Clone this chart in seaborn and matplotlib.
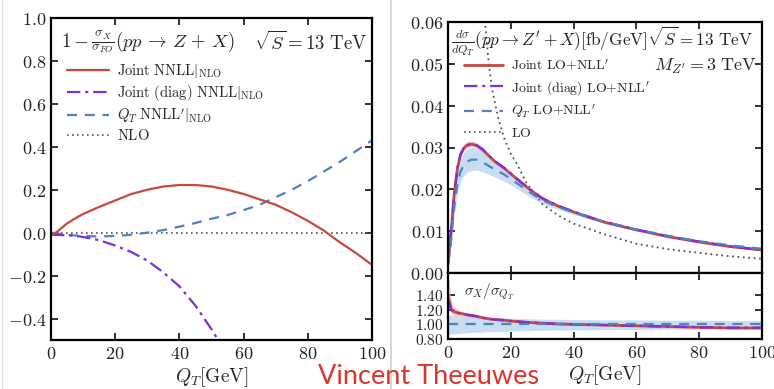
import matplotlib
matplotlib.use("Agg")
import matplotlib.pyplot as plt
import seaborn as sns
import pandas as pd
from matplotlib.lines import Line2D

# ---------------- data: left panel (relative difference to fixed order) ----------------
qt_left = [0, 1, 2, 3, 5, 7.5, 10, 15, 20, 25, 30, 35, 40, 45, 50, 55, 60, 65, 70, 75, 80, 85,
           90, 95, 100]
joint_nnll = [-0.01, -0.004, 0.005, 0.018, 0.043, 0.066, 0.087, 0.12, 0.15, 0.18, 0.20, 0.215,
              0.222, 0.222, 0.215, 0.20, 0.18, 0.155, 0.13, 0.095, 0.055, 0.01, -0.045, -0.095,
              -0.15]
joint_diag_nnll = [-0.01, -0.01, -0.01, -0.011, -0.012, -0.015, -0.02, -0.035, -0.06, -0.09,
                   -0.13, -0.185, -0.25, -0.34, -0.45, -0.57, -0.70, -0.85, -1.0, -1.2, -1.4,
                   -1.6, -1.8, -2.0, -2.2]
qt_nnll = [0.0, -0.002, -0.004, -0.006, -0.01, -0.013, -0.015, -0.018, -0.015, -0.01, 0.0, 0.012,
           0.028, 0.045, 0.065, 0.082, 0.105, 0.13, 0.165, 0.20, 0.24, 0.285, 0.33, 0.38, 0.43]
nlo = [0.0] * len(qt_left)

# ---------------- data: right panel (Z' spectrum) ----------------
qt_right = [0, 0.5, 1, 2, 3, 4, 5, 6, 7.5, 9, 11, 13, 15, 18, 20, 23, 26, 30, 35, 40, 45, 50,
            60, 70, 80, 90, 100]
joint_lo_nll = [0.002, 0.006, 0.010, 0.019, 0.025, 0.0283, 0.0298, 0.0305, 0.0308, 0.0305, 0.0295,
                0.0280, 0.0266, 0.0250, 0.0237, 0.0218, 0.0200, 0.0178, 0.0160, 0.0146, 0.0133,
                0.0121, 0.0103, 0.0087, 0.0074, 0.0063, 0.0055]
joint_lo_nll_lo = [0.0015, 0.0052, 0.0090, 0.0180, 0.0242, 0.0276, 0.0292, 0.0299, 0.0302, 0.0300,
                   0.0290, 0.0276, 0.0262, 0.0247, 0.0234, 0.0215, 0.0198, 0.0176, 0.0158, 0.0144,
                   0.0131, 0.0119, 0.0101, 0.0085, 0.0072, 0.0061, 0.0053]
joint_lo_nll_hi = [0.0025, 0.0070, 0.0112, 0.0202, 0.0260, 0.0292, 0.0307, 0.0314, 0.0316, 0.0312,
                   0.0300, 0.0285, 0.0270, 0.0253, 0.0240, 0.0221, 0.0202, 0.0180, 0.0162, 0.0148,
                   0.0135, 0.0123, 0.0105, 0.0089, 0.0076, 0.0065, 0.0057]
joint_diag_lo_nll = [0.002, 0.0062, 0.0102, 0.0192, 0.0251, 0.0284, 0.0299, 0.0306, 0.0309, 0.0306,
                     0.0296, 0.0281, 0.0267, 0.0251, 0.0238, 0.0219, 0.0201, 0.0179, 0.0161, 0.0147,
                     0.0134, 0.0122, 0.0104, 0.0088, 0.0075, 0.0064, 0.0055]
qt_lo_nll = [0.002, 0.0045, 0.0078, 0.016, 0.0214, 0.0243, 0.0257, 0.0266, 0.0271, 0.0271, 0.0265,
             0.0256, 0.0247, 0.0235, 0.0225, 0.0209, 0.0193, 0.0174, 0.0158, 0.0145, 0.0133,
             0.0122, 0.0104, 0.0089, 0.0076, 0.0066, 0.0058]
qt_lo_nll_lo = [0.0015, 0.0038, 0.0068, 0.014, 0.019, 0.0218, 0.0232, 0.0240, 0.0245, 0.0246,
                0.0242, 0.0236, 0.0229, 0.0219, 0.0211, 0.0197, 0.0183, 0.0166, 0.0152, 0.0140,
                0.0129, 0.0118, 0.0101, 0.0086, 0.0074, 0.0064, 0.0056]
qt_lo_nll_hi = [0.0025, 0.0055, 0.0092, 0.0182, 0.0242, 0.0272, 0.0288, 0.0296, 0.0300, 0.0299,
                0.0291, 0.0279, 0.0267, 0.0252, 0.0240, 0.0222, 0.0204, 0.0182, 0.0164, 0.0150,
                0.0137, 0.0126, 0.0107, 0.0092, 0.0078, 0.0068, 0.0060]

qt_lo_curve = [8, 10, 12, 13, 14, 16, 18, 20, 22, 25, 30, 35, 40, 50, 60, 70, 80, 90, 100]
lo_only = [0.11, 0.078, 0.058, 0.050, 0.044, 0.037, 0.032, 0.0285, 0.0260, 0.0215, 0.0165, 0.0138,
           0.0118, 0.0092, 0.0070, 0.0057, 0.0048, 0.0040, 0.0034]

# ratio to the Q_T resummed result
ratio_joint = [1.38, 1.30, 1.20, 1.17, 1.16, 1.15, 1.14, 1.13, 1.12, 1.11, 1.09, 1.075, 1.065,
               1.055, 1.045, 1.035, 1.025, 1.015, 1.005, 1.0, 0.995, 0.99, 0.98, 0.97, 0.96, 0.95, 0.95]
ratio_joint_lo = [1.25, 1.20, 1.14, 1.12, 1.115, 1.11, 1.105, 1.10, 1.095, 1.09, 1.075, 1.06, 1.05,
                  1.04, 1.03, 1.02, 1.01, 1.0, 0.99, 0.985, 0.98, 0.975, 0.965, 0.955, 0.945,
                  0.935, 0.935]
ratio_joint_hi = [1.70, 1.52, 1.32, 1.24, 1.20, 1.18, 1.17, 1.16, 1.15, 1.135, 1.11, 1.095, 1.085,
                  1.075, 1.065, 1.055, 1.045, 1.035, 1.025, 1.02, 1.015, 1.01, 1.0, 0.99, 0.98,
                  0.97, 0.97]
ratio_diag = [1.35, 1.29, 1.20, 1.165, 1.155, 1.145, 1.138, 1.13, 1.12, 1.11, 1.09, 1.075, 1.066,
              1.056, 1.046, 1.036, 1.026, 1.016, 1.006, 1.001, 0.996, 0.99, 0.98, 0.97, 0.96, 0.955,
              0.955]
ratio_qt = [1.0] * len(qt_right)
ratio_qt_lo = [0.86, 0.86, 0.87, 0.87, 0.875, 0.88, 0.88, 0.885, 0.89, 0.89, 0.895, 0.90, 0.90,
               0.905, 0.91, 0.91, 0.915, 0.92, 0.92, 0.925, 0.925, 0.93, 0.93, 0.935, 0.935, 0.94,
               0.94]
ratio_qt_hi = [1.13, 1.13, 1.12, 1.12, 1.115, 1.11, 1.11, 1.105, 1.10, 1.10, 1.095, 1.09, 1.09,
               1.085, 1.08, 1.08, 1.075, 1.07, 1.07, 1.065, 1.065, 1.06, 1.06, 1.055, 1.055, 1.05,
               1.05]

x_ticks = [0, 20, 40, 60, 80, 100]
left_yticks = [-0.4, -0.2, 0.0, 0.2, 0.4, 0.6, 0.8, 1.0]
right_yticks = [0.0, 0.01, 0.02, 0.03, 0.04, 0.05, 0.06]
ratio_yticks = [0.8, 1.0, 1.2, 1.4]

# ---------------- style ----------------
sns.set_theme(style="ticks")
plt.rcParams.update({
    "font.family": ["DejaVu Serif"],
    "mathtext.fontset": "cm",
    "axes.linewidth": 1.6,
    "axes.edgecolor": "black",
    "xtick.direction": "in",
    "ytick.direction": "in",
    "xtick.top": True,
    "ytick.right": True,
    "xtick.major.size": 5,
    "ytick.major.size": 5,
    "xtick.major.width": 1.3,
    "ytick.major.width": 1.3,
    "xtick.labelsize": 13,
    "ytick.labelsize": 13,
    "xtick.color": "#222222",
    "ytick.color": "#222222",
})

RED = "#c9483c"
PURPLE = "#7b2fe0"
BLUE = "#4f82c0"
DOT = "#555555"
DOTTED = (0, (1, 2))
DASHDOT = (0, (6, 2.2, 1.4, 2.2))
DASHED = (0, (4.5, 3.5))


def m(s):
    """Wrap a plain string as upright Computer Modern math text."""
    return r"$\mathrm{" + s + "}$"


W, H = 774, 389
fig = plt.figure(figsize=(W / 100, H / 100), dpi=100)


def frac(x0, y0, x1, y1):
    return [x0 / W, 1 - y1 / H, (x1 - x0) / W, (y1 - y0) / H]


ax_l = fig.add_axes(frac(51, 18, 372, 340))
ax_r = fig.add_axes(frac(448, 22, 762, 273))
ax_q = fig.add_axes(frac(448, 273, 762, 339), sharex=ax_r)

# ---------------- left panel ----------------
left = pd.DataFrame({"qt": qt_left, "joint": joint_nnll, "diag": joint_diag_nnll,
                     "qtres": qt_nnll, "nlo": nlo})
sns.lineplot(data=left, x="qt", y="nlo", ax=ax_l, color=DOT, lw=1.2, linestyle=DOTTED)
sns.lineplot(data=left, x="qt", y="qtres", ax=ax_l, color=BLUE, lw=1.6, linestyle=DASHED)
sns.lineplot(data=left, x="qt", y="diag", ax=ax_l, color=PURPLE, lw=1.6, linestyle=DASHDOT)
sns.lineplot(data=left, x="qt", y="joint", ax=ax_l, color=RED, lw=1.6)
ax_l.set_xlim(0, 100)
ax_l.set_ylim(-0.5, 1.0)
ax_l.set_xticks(x_ticks)
ax_l.set_xticklabels([m(str(v)) for v in x_ticks])
ax_l.set_yticks(left_yticks)
ax_l.set_yticklabels([m(f"{v:.1f}") for v in left_yticks])
ax_l.set_xlabel(r"$Q_T[\mathrm{GeV}]$", fontsize=14, labelpad=2)
ax_l.set_ylabel("")
ax_l.text(0.03, 0.925, r"$1-\frac{\sigma_X}{\sigma_{FO}}(pp\,\to\,Z\,+\,X)$",
          transform=ax_l.transAxes, fontsize=13.5, va="center", ha="left")
ax_l.text(0.985, 0.925, r"$\sqrt{S}=13\ \mathrm{TeV}$", transform=ax_l.transAxes,
          fontsize=13.5, va="center", ha="right")
handles_l = [Line2D([], [], color=RED, lw=1.6),
             Line2D([], [], color=PURPLE, lw=1.6, linestyle=DASHDOT),
             Line2D([], [], color=BLUE, lw=1.6, linestyle=DASHED),
             Line2D([], [], color=DOT, lw=1.2, linestyle=DOTTED)]
labels_l = [r"$\mathrm{Joint\ NNLL}|_{\mathrm{NLO}}$",
            r"$\mathrm{Joint\ (diag)\ NNLL}|_{\mathrm{NLO}}$",
            r"$Q_T\ \mathrm{NNLL}'|_{\mathrm{NLO}}$", m("NLO")]
ax_l.legend(handles_l, labels_l, loc="upper left", bbox_to_anchor=(0.05, 0.862), frameon=False,
            fontsize=10.5, handlelength=2.9, handletextpad=0.5, labelspacing=0.2,
            borderpad=0, borderaxespad=0)

# ---------------- right panel: spectrum ----------------
right = pd.DataFrame({"qt": qt_right, "joint": joint_lo_nll, "diag": joint_diag_lo_nll,
                      "qtres": qt_lo_nll})
lo_df = pd.DataFrame({"qt": qt_lo_curve, "lo": lo_only})
ax_r.fill_between(qt_right, qt_lo_nll_lo, qt_lo_nll_hi, color="#b3d2ee", alpha=0.75, lw=0)
ax_r.fill_between(qt_right, joint_lo_nll_lo, joint_lo_nll_hi, color="#f4a8a8", alpha=0.6, lw=0)
sns.lineplot(data=lo_df, x="qt", y="lo", ax=ax_r, color=DOT, lw=1.3, linestyle=DOTTED)
sns.lineplot(data=right, x="qt", y="joint", ax=ax_r, color=RED, lw=2.0)
sns.lineplot(data=right, x="qt", y="diag", ax=ax_r, color=PURPLE, lw=1.6, linestyle=DASHDOT)
sns.lineplot(data=right, x="qt", y="qtres", ax=ax_r, color=BLUE, lw=1.6, linestyle=DASHED)
ax_r.set_xlim(0, 100)
ax_r.set_ylim(0, 0.06)
ax_r.set_yticks(right_yticks)
ax_r.set_yticklabels([m(f"{v:.2f}") for v in right_yticks])
ax_r.tick_params(axis="x", labelbottom=False)
ax_r.set_xlabel("")
ax_r.set_ylabel("")
ax_r.text(0.01, 0.922,
          r"$\frac{d\sigma}{dQ_T}(pp\to Z'+X)[\mathrm{fb/GeV}]\sqrt{S}=13\ \mathrm{TeV}$",
          transform=ax_r.transAxes, fontsize=12.4, va="center", ha="left")
ax_r.text(0.985, 0.823, r"$M_{Z'}=3\ \mathrm{TeV}$", transform=ax_r.transAxes, fontsize=13,
          va="center", ha="right")
handles_r = [Line2D([], [], color=RED, lw=2.0),
             Line2D([], [], color=PURPLE, lw=1.6, linestyle=DASHDOT),
             Line2D([], [], color=BLUE, lw=1.6, linestyle=DASHED),
             Line2D([], [], color=DOT, lw=1.2, linestyle=DOTTED)]
labels_r = [r"$\mathrm{Joint\ LO{+}NLL}'$", r"$\mathrm{Joint\ (diag)\ LO{+}NLL}'$",
            r"$Q_T\ \mathrm{LO{+}NLL}'$", m("LO")]
ax_r.legend(handles_r, labels_r, loc="upper left", bbox_to_anchor=(0.05, 0.858), frameon=False,
            fontsize=10, handlelength=2.8, handletextpad=0.6, labelspacing=0.42,
            borderpad=0, borderaxespad=0)

# ---------------- right panel: ratio ----------------
ratio = pd.DataFrame({"qt": qt_right, "joint": ratio_joint, "diag": ratio_diag, "qtres": ratio_qt})
ax_q.fill_between(qt_right, ratio_qt_lo, ratio_qt_hi, color="#b3d2ee", alpha=0.75, lw=0)
ax_q.fill_between(qt_right, ratio_joint_lo, ratio_joint_hi, color="#f4a8a8", alpha=0.6, lw=0)
sns.lineplot(data=ratio, x="qt", y="joint", ax=ax_q, color=RED, lw=2.0)
sns.lineplot(data=ratio, x="qt", y="diag", ax=ax_q, color=PURPLE, lw=1.6, linestyle=DASHDOT)
sns.lineplot(data=ratio, x="qt", y="qtres", ax=ax_q, color=BLUE, lw=1.6, linestyle=DASHED)
ax_q.set_xlim(0, 100)
ax_q.set_ylim(0.8, 1.7)
ax_q.set_yticks(ratio_yticks)
ax_q.set_yticklabels([m(f"{v:.2f}") for v in ratio_yticks])
ax_q.tick_params(axis="y", pad=3, labelsize=11)
ax_q.set_xticks(x_ticks)
ax_q.set_xticklabels([m(str(v)) for v in x_ticks])
ax_q.set_xlabel(r"$Q_T[\mathrm{GeV}]$", fontsize=14, labelpad=1)
ax_q.set_ylabel("")
ax_q.text(0.05, 0.72, r"$\sigma_X/\sigma_{Q_T}$", transform=ax_q.transAxes, fontsize=11,
          va="center", ha="left")

# slide separators and footer name
fig.add_artist(Line2D([391 / W, 391 / W], [0, 1], color="#cfcfcf", lw=1.2))
fig.add_artist(Line2D([2 / W, 2 / W], [0, 1], color="#e2e2e2", lw=1.0))
fig.text(429 / W, 1 - 376 / H, "Vincent Theeuwes", color="#d8352b", fontsize=19.5,
         family=["Lato", "DejaVu Sans"], ha="center", va="center")

fig.savefig("out.png", dpi=100)
